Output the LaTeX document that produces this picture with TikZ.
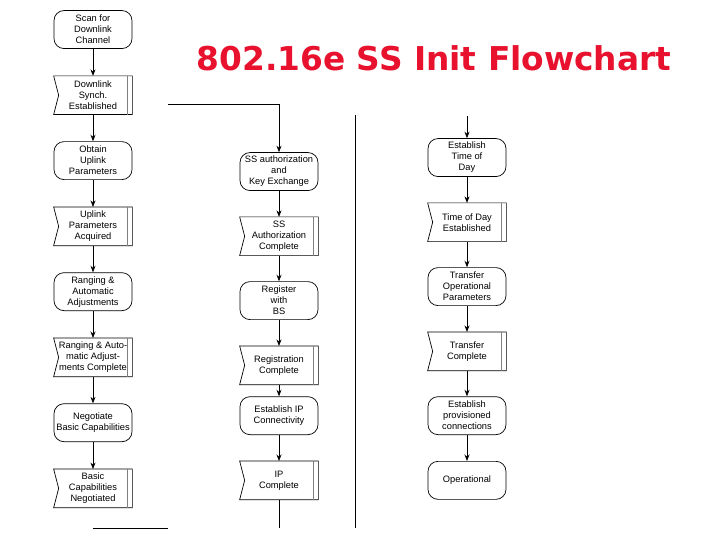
\documentclass[tikz,border=0pt]{standalone}
\usepackage{fontspec}
\usepackage{tikz}
\usetikzlibrary{matrix,arrows.meta}
\newfontfamily\boxfont{Liberation Sans}
\newfontfamily\titlefont{DejaVu Sans}
\definecolor{titlered}{RGB}{232,18,46}

\tikzset{
  proc/.style={draw, rounded corners=10pt, line width=0.7pt, minimum width=78pt,
    minimum height=38pt, inner sep=1pt, align=center,
    font=\boxfont\fontsize{9.3}{11}\selectfont},
  status/.style={proc, draw=none},
  flow/.style={line width=0.7pt},
  >={Stealth[length=6.5pt,width=5pt]}
}

\begin{document}
\begin{tikzpicture}[x=1pt,y=-1pt]
\useasboundingbox (0,0) rectangle (720,540);

\node[text=titlered, font=\titlefont\bfseries\fontsize{32.8}{38}\selectfont] (title) at (434,58) {802.16e SS Init Flowchart};

	\matrix (init) [row sep=27pt,inner sep=0pt,anchor=north] at (93,10)
	{
		\node[proc] (scan) {Scan for\\Downlink\\Channel}; \\
		\node[status] (dlsync) {Downlink\\Synch.\\Established}; \\
		\node[proc] (obtain) {Obtain\\Uplink\\Parameters}; \\
		\node[status] (ulacq) {Uplink\\Parameters\\Acquired}; \\
		\node[proc] (ranging) {Ranging \&\\Automatic\\Adjustments}; \\
		\node[status] (rngdone) {Ranging \& Auto-\\matic Adjust-\\ments Complete}; \\
		\node[proc] (negot) {Negotiate\\Basic Capabilities}; \\
		\node[status] (negdone) {Basic\\Capabilities\\Negotiated}; \\
	};
	\matrix (auth) [row sep=26pt,inner sep=0pt,anchor=north,every node/.append style={minimum height=40pt}] at (279,152)
	{
		\node[proc] (authkey) {SS authorization\\and\\Key Exchange}; \\
		\node[status] (authdone) {SS\\Authorization\\Complete}; \\
		\node[proc] (register) {Register\\with\\BS}; \\
		\node[status] (regdone) {Registration\\Complete}; \\[-14pt]
		\node[proc] (ipconn) {Establish IP\\Connectivity}; \\
		\node[status] (ipdone) {IP\\Complete}; \\
	};
	\matrix (oper) [row sep=26pt,inner sep=0pt,anchor=north,every node/.append style={minimum height=39pt}] at (467,138)
	{
		\node[proc] (settod) {Establish\\Time of\\Day}; \\
		\node[status] (toddone) {Time of Day\\Established}; \\
		\node[proc] (xfer) {Transfer\\Operational\\Parameters}; \\
		\node[status] (xferdone) {Transfer\\Complete}; \\
		\node[proc] (prov) {Establish\\provisioned\\connections}; \\
		\node[proc] (operational) {Operational}; \\
	};

	% status boxes: notched left side, double line on the right
	\foreach \n in {dlsync,ulacq,rngdone,negdone,authdone,regdone,ipdone,toddone,xferdone}
	{
		\draw[flow] (\n.north west) -- (\n.north east) -- (\n.south east) -- (\n.south west)
			-- ([xshift=5pt]\n.west) -- cycle;
		\draw[line width=0.7pt,gray] ([xshift=-5pt]\n.north east) -- ([xshift=-5pt]\n.south east);
	}

	\path[flow,->]
	(scan) edge (dlsync)
	(dlsync) edge (obtain)
	(obtain) edge (ulacq)
	(ulacq) edge (ranging)
	(ranging) edge (rngdone)
	(rngdone) edge (negot)
	(negot) edge (negdone)
	(authkey) edge (authdone)
	(authdone) edge (register)
	(register) edge (regdone)
	(regdone) edge (ipconn)
	(ipconn) edge (ipdone)
	(settod) edge (toddone)
	(toddone) edge (xfer)
	(xfer) edge (xferdone)
	(xferdone) edge (prov)
	(prov) edge (operational);

	% off-page connectors and separator
	\coordinate (initout) at (93,528);
	\coordinate (initend) at (168,528);
	\coordinate (authin) at (168,104);
	\coordinate (authend) at (279,528);
	\coordinate (septop) at (355,115);
	\coordinate (sepbot) at (355,528);
	\coordinate (operin) at (467,116);
	\draw[flow] (initout) -- (initend);
	\draw[flow,->] (authin) -| (authkey);
	\draw[flow] (ipdone.south) -- (ipdone.south |- authend);
	\draw[flow] (septop) -- (sepbot);
	\draw[flow,->] (settod.north |- operin) -- (settod);
\end{tikzpicture}
\end{document}
